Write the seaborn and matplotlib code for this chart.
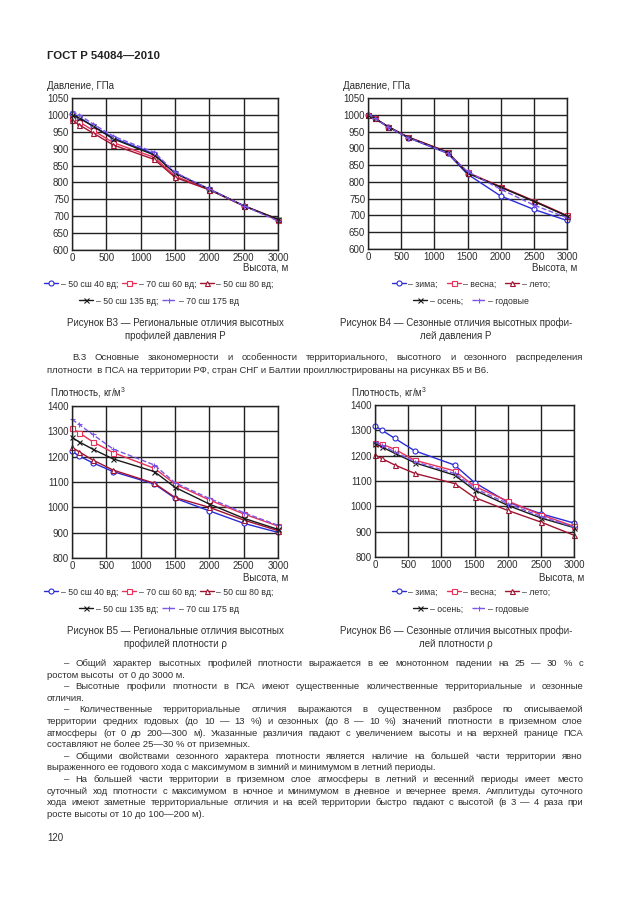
import matplotlib
matplotlib.use('Agg')
import matplotlib.pyplot as plt
import seaborn as sns

W, H = 630, 913

# heights, m
heights = [0, 100, 300, 600, 1200, 1500, 2000, 2500, 3000]

# Fig B3: pressure, regional (hPa)
p_50_40 = [1003, 993, 968, 932, 884, 828, 780, 731, 689]
p_70_60 = [990, 980, 955, 918, 874, 819, 779, 731, 689]
p_50_80 = [985, 971, 947, 911, 868, 815, 778, 731, 691]
p_50_135 = [1000, 991, 967, 929, 881, 827, 780, 731, 691]
p_70_175 = [1011, 1000, 974, 937, 889, 830, 780, 731, 686]

# Fig B4: pressure, seasonal (hPa)
p_winter = [1000, 989, 964, 932, 885, 823, 758, 718, 685]
p_spring = [1000, 990, 965, 934, 889, 828, 786, 744, 700]
p_summer = [1000, 990, 965, 934, 889, 827, 785, 743, 699]
p_autumn = [1000, 990, 965, 933, 888, 826, 784, 742, 698]
p_year = [1002, 990, 964, 932, 886, 831, 778, 731, 693]

# Fig B5: density, regional
r_50_40 = [1222, 1203, 1176, 1141, 1092, 1036, 986, 937, 901]
r_70_60 = [1312, 1295, 1259, 1216, 1154, 1092, 1029, 974, 926]
r_50_80 = [1237, 1220, 1187, 1147, 1095, 1039, 1000, 950, 908]
r_50_135 = [1276, 1259, 1230, 1191, 1141, 1079, 1013, 957, 913]
r_70_175 = [1347, 1328, 1288, 1230, 1167, 1097, 1035, 979, 929]

# Fig B6: density, seasonal
r_winter = [1317, 1301, 1268, 1219, 1163, 1094, 1017, 971, 934]
r_spring = [1251, 1246, 1225, 1182, 1140, 1079, 1021, 967, 921]
r_summer = [1202, 1189, 1163, 1130, 1090, 1035, 984, 938, 886]
r_autumn = [1248, 1235, 1209, 1172, 1123, 1064, 1004, 954, 916]
r_year = [1255, 1241, 1215, 1176, 1130, 1071, 1011, 960, 918]

region_labels = ['– 50 сш 40 вд;', '– 70 сш 60 вд;', '– 50 сш 80 вд;',
                 '– 50 сш 135 вд;', '– 70 сш 175 вд']
season_labels = ['– зима;', '– весна;', '– лето;', '– осень;', '– годовые']

styles = [('#2b2bd6', 'o', '-'),
          ('#e8325a', 's', '-'),
          ('#a01432', '^', '-'),
          ('#1a1a1a', 'x', '-'),
          ('#7b55e8', '+', '--')]

sns.set_style('white')
plt.rcParams['font.family'] = ['Liberation Sans', 'DejaVu Sans']
plt.rcParams['mathtext.fontset'] = 'custom'
plt.rcParams['mathtext.rm'] = 'Liberation Sans'

fig = plt.figure(figsize=(W / 100, H / 100), dpi=100)
fig.patch.set_facecolor('white')
TXT = '#2e2e2e'
LAB = 7.0
CAP = 7.0


def ax_at(x0, y0, x1, y1):
    return fig.add_axes([x0 / W, 1 - y1 / H, (x1 - x0) / W, (y1 - y0) / H])


def put(x, y, s, **kw):
    kw.setdefault('color', TXT)
    return fig.text(x / W, 1 - y / H, s, **kw)


def draw_chart(rect, series, ylim, ystep):
    ax = ax_at(*rect)
    handles = []
    for vals, (c, m, ls) in zip(series, styles):
        sns.lineplot(x=heights, y=vals, ax=ax, color=c, marker=m, linestyle=ls,
                     lw=1.0, markersize=3.6, markerfacecolor='white',
                     markeredgecolor=c, markeredgewidth=0.8, legend=False,
                     clip_on=False)
        handles.append(ax.lines[-1])
    ax.set_xlim(0, 3000)
    ax.set_ylim(*ylim)
    ax.set_xticks(range(0, 3001, 500))
    ax.set_yticks(range(ylim[0], ylim[1] + 1, ystep))
    ax.grid(True, color='#222222', lw=1.0)
    ax.set_axisbelow(True)
    ax.tick_params(length=0, labelsize=LAB, pad=2, colors=TXT)
    for s in ax.spines.values():
        s.set_color('#222222')
        s.set_linewidth(1.0)
    ax.set_xlabel('')
    ax.set_ylabel('')
    return handles


def legend_rows(handles, labels, cx, y1, y2, spacing):
    for hs, ls, y in [(handles[:3], labels[:3], y1), (handles[3:], labels[3:], y2)]:
        fig.legend(hs, ls, loc='center', bbox_to_anchor=(cx / W, 1 - y / H),
                   ncol=len(hs), frameon=False, fontsize=6.3, handlelength=1.6,
                   handletextpad=0.3, columnspacing=spacing, borderpad=0,
                   labelcolor=TXT)


# header
put(47, 59, 'ГОСТ Р 54084—2010', fontsize=8.2, fontweight='bold', color='#222222',
    va='baseline')

# Figure B3
h = draw_chart((72, 98, 278, 250), [p_50_40, p_70_60, p_50_80, p_50_135, p_70_175],
               (600, 1050), 50)
put(47, 89, 'Давление, ГПа', fontsize=LAB, va='baseline')
put(288, 270, 'Высота, м', fontsize=LAB, va='baseline', ha='right')
legend_rows(h, region_labels, 159, 284, 301, 0.4)
put(175, 326, 'Рисунок В3 — Региональные отличия высотных', fontsize=CAP,
    ha='center', va='baseline')
put(175, 339, 'профилей давления Р', fontsize=CAP, ha='center', va='baseline')

# Figure B4
h = draw_chart((368, 98, 567, 249), [p_winter, p_spring, p_summer, p_autumn, p_year],
               (600, 1050), 50)
put(343, 89, 'Давление, ГПа', fontsize=LAB, va='baseline')
put(577, 270, 'Высота, м', fontsize=LAB, va='baseline', ha='right')
legend_rows(h, season_labels, 471, 284, 301, 1.0)
put(456, 326, 'Рисунок В4 — Сезонные отличия высотных профи-', fontsize=CAP,
    ha='center', va='baseline')
put(456, 339, 'лей давления Р', fontsize=CAP, ha='center', va='baseline')

# Figure B5
h = draw_chart((72, 406, 278, 558), [r_50_40, r_70_60, r_50_80, r_50_135, r_70_175],
               (800, 1400), 100)
put(50, 397, 'Плотность, кг/м$^3$', fontsize=LAB, va='baseline')
put(288, 580, 'Высота, м', fontsize=LAB, va='baseline', ha='right')
legend_rows(h, region_labels, 159, 592, 609, 0.4)
put(175, 634, 'Рисунок В5 — Региональные отличия высотных', fontsize=CAP,
    ha='center', va='baseline')
put(175, 647, 'профилей плотности ρ', fontsize=CAP, ha='center', va='baseline')

# Figure B6
h = draw_chart((375, 405, 574, 557), [r_winter, r_spring, r_summer, r_autumn, r_year],
               (800, 1400), 100)
put(351, 397, 'Плотность, кг/м$^3$', fontsize=LAB, va='baseline')
put(584, 580, 'Высота, м', fontsize=LAB, va='baseline', ha='right')
legend_rows(h, season_labels, 471, 592, 609, 1.0)
put(456, 634, 'Рисунок В6 — Сезонные отличия высотных профи-', fontsize=CAP,
    ha='center', va='baseline')
put(456, 647, 'лей плотности ρ', fontsize=CAP, ha='center', va='baseline')

# body text, justified by hand
renderer = fig.canvas.get_renderer()
BODY = 6.8
LEFT, RIGHT = 47, 583


def line(y, s, x0, justify=False):
    if not justify:
        put(x0, y, s, fontsize=BODY, va='baseline')
        return
    words = [w for w in s.split(' ') if w]
    objs = [put(0, y, w, fontsize=BODY, va='baseline') for w in words]
    widths = [o.get_window_extent(renderer).width for o in objs]
    gap = (RIGHT - x0 - sum(widths)) / (len(words) - 1)
    x = x0
    for o, w in zip(objs, widths):
        o.set_x(x / W)
        x += w + gap


line(360, 'В.3 Основные закономерности и особенности территориального, высотного и сезонного распределения', 72, True)
line(372.5, 'плотности  в ПСА на территории РФ, стран СНГ и Балтии проиллюстрированы на рисунках В5 и В6.', LEFT)

body = [
    ('– Общий характер высотных профилей плотности выражается в ее монотонном падении на 25 — 30 % с', True, True),
    ('ростом высоты  от 0 до 3000 м.', False, False),
    ('– Высотные профили плотности в ПСА имеют существенные количественные территориальные и сезонные', True, True),
    ('отличия.', False, False),
    ('– Количественные территориальные отличия выражаются в существенном  разбросе  по  описываемой', True, True),
    ('территории средних годовых (до 10 — 13 %) и сезонных (до 8 — 10 %) значений  плотности в приземном слое', False, True),
    ('атмосферы (от 0 до 200—300 м). Указанные различия падают с увеличением высоты и на верхней границе ПСА', False, True),
    ('составляют не более 25—30 % от приземных.', False, False),
    ('– Общими свойствами сезонного характера плотности является наличие на большей части территории явно', True, True),
    ('выраженного ее годового хода с максимумом в зимний и минимумом в летний периоды.', False, False),
    ('–  На большей части территории в приземном слое атмосферы в летний и весенний периоды имеет место', True, True),
    ('суточный ход плотности  с максимумом в ночное и минимумом в дневное и вечернее время. Амплитуды суточного', False, True),
    ('хода имеют заметные территориальные отличия и на всей территории быстро падают с высотой (в 3 — 4 раза при', False, True),
    ('росте высоты от 10 до 100—200 м).', False, False),
]
for i, (s, ind, j) in enumerate(body):
    line(666 + i * 11.6, s, 64 if ind else LEFT, j)

put(47, 841, '120', fontsize=LAB, va='baseline')

fig.savefig('out.png', dpi=100, facecolor='white')
